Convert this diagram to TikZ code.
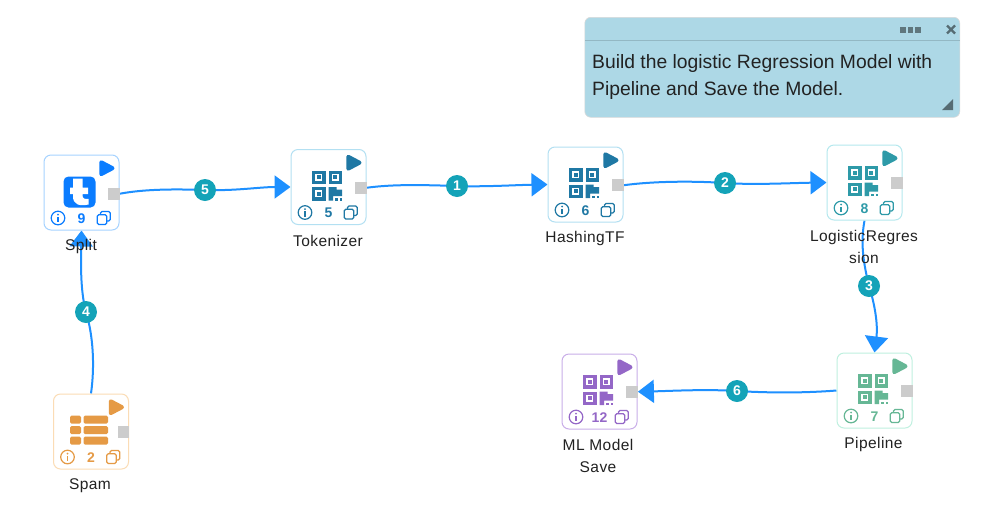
\documentclass[tikz,border=0pt]{standalone}
\usepackage{fontspec}
\setmainfont{Liberation Sans}
\usetikzlibrary{arrows.meta,backgrounds}
\definecolor{blueE}{HTML}{1E90FF}
\definecolor{tealL}{HTML}{14A3B8}
\definecolor{noteB}{HTML}{ADD8E6}
\definecolor{portG}{HTML}{CCCCCC}
\definecolor{txt}{HTML}{222222}
\definecolor{cSplit}{HTML}{0A7CFF}\definecolor{bSplit}{HTML}{A6D3FF}
\definecolor{cTok}{HTML}{1F78A4}\definecolor{bTok}{HTML}{B3E0F2}
\definecolor{cLog}{HTML}{2E9AA8}\definecolor{bLog}{HTML}{B5E8EE}
\definecolor{cPipe}{HTML}{66B795}\definecolor{bPipe}{HTML}{BFF0DF}
\definecolor{cMl}{HTML}{9467C7}\definecolor{bMl}{HTML}{C9AEE8}
\definecolor{cSpam}{HTML}{E59A45}\definecolor{bSpam}{HTML}{FBDCB5}
\tikzset{
  flowbox/.style={draw,line width=1pt,rounded corners=7pt,fill=white,minimum width=75pt,minimum height=75pt,inner sep=0pt,anchor=north west},
  portbox/.style={fill=portG,minimum width=11.5pt,minimum height=12pt,inner sep=0pt,anchor=north west},
  numtxt/.style={font=\fontsize{14}{14}\selectfont\bfseries,inner sep=0pt},
  lbl/.style={font=\fontsize{15.5}{22}\selectfont\addfontfeature{LetterSpace=2.7},text=txt,align=center,inner sep=0pt},
  edgelab/.style={circle,fill=tealL,text=white,minimum size=22pt,inner sep=0pt,font=\fontsize{14}{14}\selectfont\bfseries},
  conn/.style={draw=blueE,line width=2pt,-{Triangle[length=16pt,width=23pt]}},
  notetxt/.style={font=\fontsize{19.3}{27}\selectfont,text=txt,anchor=west,inner sep=0pt}
}
\newcommand{\qricon}{%
  \foreach \qx/\qy in {21.5/21.5,38/21.5,21.5/38}{
    \draw[nc,line width=3.2pt] (\qx+1.6,\qy+1.6) rectangle (\qx+11.9,\qy+11.9);
    \fill[nc] (\qx+4.9,\qy+4.9) rectangle (\qx+8.6,\qy+8.6);
  }
  \fill[nc] (38,38) -- (46,38) -- (46,40.5) -- (51.5,40.5) -- (51.5,47) -- (42.5,47) -- (42.5,51.5) -- (38,51.5) -- cycle;
  \fill[nc] (44.5,49) rectangle (47,51.5);
  \fill[nc] (49,49) rectangle (51.5,51.5);
}
\newcommand{\tableicon}{%
  \foreach \qy in {22,32.5,43}{
    \fill[nc,rounded corners=1.5pt] (17,\qy) rectangle (28,\qy+8);
    \fill[nc,rounded corners=1.5pt] (30.5,\qy) rectangle (55,\qy+8);
  }
}
\newcommand{\ticon}{%
  \fill[nc,rounded corners=5pt] (20,22) rectangle (52,53);
  \fill[white] (29.5,24) -- (39,24) -- (39,33) -- (44.5,33) -- (44.5,39.5) -- (39,39.5) -- (39,41) .. controls (39,44) and (41,44.8) .. (45,44.3) -- (45,50) .. controls (36,52) and (29.5,50) .. (29.5,42) -- (29.5,39.5) -- (26.5,39.5) -- (26.5,33) -- (29.5,33) -- cycle;
}
% name, x, y, colour, border, number, icon, port y-offset
\newcommand{\flowblock}[8]{%
  \colorlet{nc}{#4}
  \node[flowbox,draw=#5] (#1) at (#2,#3) {};
  \begin{scope}[shift={(#2,#3)}]
    \node[portbox] (#1-port) at (64.5,#8) {};
    \filldraw[nc,line width=4pt,line join=round] (57.8,7.8) -- (69,13.7) -- (57.8,19.6) -- cycle;
    #7
    \draw[nc,line width=1.2pt] (14.5,63.5) circle (6.8pt);
    \fill[nc] (14.5,60) circle (1pt);
    \fill[nc] (13.6,62) rectangle (15.4,67.6);
    \node[numtxt,text=nc] at (38,64) {#6};
    \draw[nc,line width=1.3pt,rounded corners=1.5pt] (57,60) -- (57,57) -- (66.8,57) -- (66.8,66.5) -- (63.5,66.5);
    \draw[nc,line width=1.3pt,rounded corners=1.5pt] (53.8,60.2) rectangle (63.2,70);
  \end{scope}
}
\begin{document}
\begin{tikzpicture}[x=1pt,y=-1pt]
\useasboundingbox (0,0) rectangle (987,512);
% note
\node[draw=black!15,line width=0.6pt,fill=noteB,rounded corners=6pt,minimum width=375pt,minimum height=100pt,inner sep=0pt,anchor=north west] (note) at (584.5,17) {};
\draw[black!15!noteB,line width=0.8pt] (585,40.5) -- (959.5,40.5);
\foreach \dx in {903,910.5,918} \fill[black!45!noteB] (\dx-2.8,27) rectangle (\dx+2.8,33);
\draw[black!50!noteB,line width=2.4pt] (947,25.5) -- (955,33.5) (955,25.5) -- (947,33.5);
\fill[black!50!noteB] (953,99) -- (953,110) -- (942,110) -- cycle;
\node[notetxt] at (592,63.5) {Build the logistic Regression Model with};
\node[notetxt] at (592,90.5) {Pipeline and Save the Model.};
% blocks
\flowblock{split}{43.5}{154.5}{cSplit}{bSplit}{9}{\ticon}{33}
\flowblock{tok}{290.5}{149}{cTok}{bTok}{5}{\qricon}{32.5}
\flowblock{hash}{547.5}{146.5}{cTok}{bTok}{6}{\qricon}{32.5}
\flowblock{logi}{826.5}{144.5}{cLog}{bLog}{8}{\qricon}{32.5}
\flowblock{pipe}{836.5}{352.5}{cPipe}{bPipe}{7}{\qricon}{32}
\flowblock{mlsave}{561.5}{353.5}{cMl}{bMl}{12}{\qricon}{32}
\flowblock{spam}{53}{393.5}{cSpam}{bSpam}{2}{\tableicon}{32.5}
% labels
\node[lbl] (l1) at (81,246.5) {Split};
\node[lbl] (l2) at (328,240.5) {Tokenizer};
\node[lbl] (l3) at (585,238.5) {HashingTF};
\node[lbl,anchor=north] (l4) at (864,230) {LogisticRegres\\sion};
\node[lbl] (l5) at (873.5,444.5) {Pipeline};
\node[lbl,anchor=north] (l6) at (598,439) {ML Model\\Save};
\node[lbl] (l7) at (90,485.5) {Spam};
% edge badges
\node[edgelab] (e5) at (205,190) {5};
\node[edgelab] (e1) at (457,186) {1};
\node[edgelab] (e2) at (725,183) {2};
\node[edgelab] (e3) at (869,286) {3};
\node[edgelab] (e4) at (86,312) {4};
\node[edgelab] (e6) at (737,391) {6};
% connectors
\begin{scope}[on background layer]
\fill[white] (0,0) rectangle (987,512);
\draw[conn] (split-port.east) .. controls (145,189) and (175,189) .. (e5.center) .. controls (235,191) and (260,187) .. (tok.west);
\draw[conn] (tok-port.east) .. controls (395,184) and (425,185) .. (e1.center) .. controls (485,187) and (515,185) .. (hash.west);
\draw[conn] (hash-port.east) .. controls (655,181) and (695,181) .. (e2.center) .. controls (755,185) and (790,183) .. (logi.west);
\draw[conn] (logi.south) .. controls (860,245) and (864,265) .. (e3.center) .. controls (875,305) and (878,325) .. (pipe.north);
\draw[conn] (spam.north) .. controls (95,365) and (93,335) .. (e4.center) .. controls (80,290) and (81,260) .. (split.south);
\draw[conn] (pipe.west) .. controls (805,393) and (770,393) .. (e6.center) .. controls (705,389) and (670,391) .. (mlsave-port.east);
\end{scope}
\end{tikzpicture}
\end{document}
